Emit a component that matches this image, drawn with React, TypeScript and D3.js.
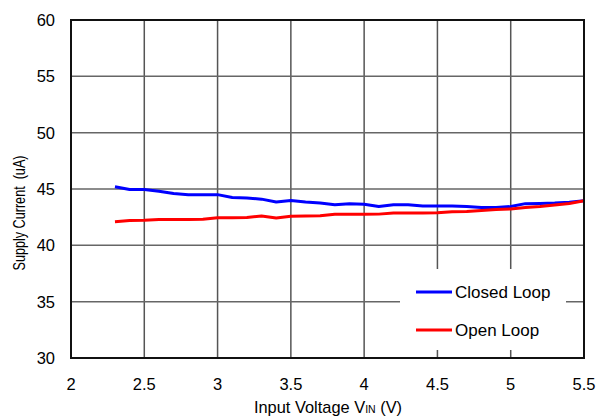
import React from "react";
import * as d3 from "d3";

const voltage = [2.3, 2.4, 2.5, 2.6, 2.7, 2.8, 2.9, 3.0, 3.1, 3.2, 3.3, 3.4, 3.5, 3.6, 3.7, 3.8, 3.9, 4.0, 4.1, 4.2, 4.3, 4.4, 4.5, 4.6, 4.7, 4.8, 4.9, 5.0, 5.1, 5.2, 5.3, 5.4, 5.5];
const closedLoop = [45.2, 44.95, 44.95, 44.8, 44.6, 44.5, 44.5, 44.5, 44.25, 44.2, 44.1, 43.85, 43.98, 43.85, 43.75, 43.6, 43.7, 43.65, 43.45, 43.6, 43.6, 43.5, 43.5, 43.5, 43.45, 43.35, 43.35, 43.45, 43.7, 43.72, 43.75, 43.82, 43.95];
const openLoop = [42.1, 42.2, 42.22, 42.3, 42.3, 42.3, 42.32, 42.45, 42.45, 42.47, 42.6, 42.42, 42.58, 42.6, 42.62, 42.75, 42.75, 42.75, 42.77, 42.87, 42.87, 42.87, 42.9, 42.98, 43.0, 43.1, 43.18, 43.23, 43.35, 43.45, 43.58, 43.72, 43.95];
const xTicks = [2, 2.5, 3, 3.5, 4, 4.5, 5, 5.5];
const yTicks = [30, 35, 40, 45, 50, 55, 60];
const seriesNames = ["Closed Loop", "Open Loop"];
const seriesColors = ["#0000ff", "#ff0000"];

const W = 606;
const H = 420;
const L = 71, R = 584, T = 20, B = 358;
const FONT = "'Liberation Sans', Arial, sans-serif";

export default function App() {
  const x = d3.scaleLinear().domain([2, 5.5]).range([L, R]);
  const y = d3.scaleLinear().domain([30, 60]).range([B, T]);
  const line = d3
    .line<[number, number]>()
    .x((d) => x(d[0]))
    .y((d) => y(d[1]));
  const series = [closedLoop, openLoop].map((vals) =>
    voltage.map((v, i) => [v, vals[i]] as [number, number])
  );

  return (
    <svg
      width={W}
      height={H}
      style={{ position: "absolute", left: 0, top: 0, background: "#fff" }}
      fontFamily={FONT}
    >
      <rect x={0} y={0} width={W} height={H} fill="#fff" />
      {/* grid */}
      {xTicks.slice(1, -1).map((t) => (
        <line key={"gx" + t} x1={x(t)} x2={x(t)} y1={T} y2={B} stroke="#555" strokeWidth={1.5} />
      ))}
      {yTicks.slice(1, -1).map((t) => (
        <line key={"gy" + t} x1={L} x2={R} y1={y(t)} y2={y(t)} stroke="#666" strokeWidth={1.5} />
      ))}
      {/* legend box (white, no border) */}
      <rect x={400} y={269} width={166} height={81} fill="#fff" />
      {/* series */}
      {series.map((s, i) => (
        <path key={i} d={line(s) || ""} fill="none" stroke={seriesColors[i]} strokeWidth={3} strokeLinejoin="round" />
      ))}
      {/* frame */}
      <rect x={L} y={T} width={R - L} height={B - T} fill="none" stroke="#111" strokeWidth={2} />
      {/* y tick labels */}
      {yTicks.map((t) => (
        <text key={"ly" + t} x={55} y={y(t)} dy="0.36em" textAnchor="end" fontSize={16.5} fill="#000">
          {t}
        </text>
      ))}
      {/* x tick labels */}
      {xTicks.map((t) => (
        <text key={"lx" + t} x={x(t)} y={390} textAnchor="middle" fontSize={16.5} fill="#000">
          {t}
        </text>
      ))}
      {/* axis titles */}
      <text x={328} y={413} textAnchor="middle" fontSize={16.4} fill="#000">
        Input Voltage V<tspan fontSize={10.5}>IN</tspan> (V)
      </text>
      <text
        transform={`translate(25,${(T + B) / 2 + 24}) rotate(-90)`}
        textAnchor="middle"
        fontSize={16}
        fill="#000"
        textLength={115}
        lengthAdjust="spacingAndGlyphs"
        style={{ whiteSpace: "pre" }}
      >
        {"Supply Current  (uA)"}
      </text>
      {/* legend */}
      {seriesNames.map((n, i) => (
        <g key={n}>
          <line x1={416} x2={452} y1={292 + i * 38} y2={292 + i * 38} stroke={seriesColors[i]} strokeWidth={3} />
          <text x={455} y={297.5 + i * 38} fontSize={17} fill="#000">
            {n}
          </text>
        </g>
      ))}
    </svg>
  );
}
